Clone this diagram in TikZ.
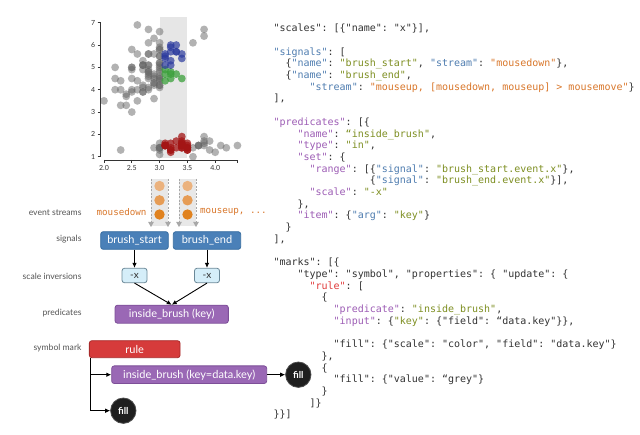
\documentclass[tikz,border=0pt]{standalone}
\usepackage{fontspec}
\setmainfont{Lato}
\setmonofont{DejaVu Sans Mono}
\usetikzlibrary{arrows.meta,calc}
\definecolor{cdef}{HTML}{333333}
\definecolor{cblue}{HTML}{4F7DB0}
\definecolor{cgreen}{HTML}{7E8F22}
\definecolor{corange}{HTML}{D9772B}
\definecolor{cpurple}{HTML}{9D5DB5}
\definecolor{cred}{HTML}{E03A3A}
\definecolor{labgray}{HTML}{555555}
\definecolor{sigfill}{HTML}{4A80B8}
\definecolor{sigborder}{HTML}{356CA0}
\definecolor{invfill}{HTML}{D5EEF9}
\definecolor{invborder}{HTML}{6A8898}
\definecolor{predfill}{HTML}{9A68B5}
\definecolor{predborder}{HTML}{7D4F98}
\definecolor{rulefill}{HTML}{D63B3B}
\definecolor{ruleborder}{HTML}{A82A2A}
\definecolor{fillnodec}{HTML}{1F1F1F}
\definecolor{brushc}{HTML}{E6E6E6}
\definecolor{ptred}{HTML}{A31515}
\definecolor{ptblue}{HTML}{2B3A9E}
\definecolor{ptgreen}{HTML}{3BA03B}
\definecolor{evA}{HTML}{EBB27E}
\definecolor{evB}{HTML}{E69C55}
\definecolor{evC}{HTML}{E0821F}
\definecolor{stripc}{HTML}{E8E8E8}
\definecolor{stripline}{HTML}{A8A8A8}
\newcommand\Kb[1]{\textcolor{cblue}{#1}}
\newcommand\Kg[1]{\textcolor{cgreen}{#1}}
\newcommand\Ko[1]{\textcolor{corange}{#1}}
\newcommand\Kp[1]{\textcolor{cpurple}{#1}}
\newcommand\Kr[1]{\textcolor{cred}{#1}}
\newcommand\CL[3]{\node[codeline] (code#1) at ({273.3+#2*6.02},{28.3+#1*11.7+3.5}) {#3};}
\tikzset{
  codeline/.style={anchor=base west, inner sep=0pt, text=cdef, font=\ttfamily\fontsize{10}{12}\selectfont},
  rowlabel/.style={anchor=east, inner sep=0pt, text=labgray, font=\fontsize{8.6}{10}\selectfont},
  ticklab/.style={inner sep=0pt, text=cdef, font=\fontsize{7}{8}\selectfont},
  axisline/.style={draw=cdef, line width=0.7pt},
  gpt/.style={fill=black!60, fill opacity=0.5},
  rpt/.style={fill=ptred, fill opacity=0.75},
  bpt/.style={fill=ptblue, fill opacity=0.7},
  grpt/.style={fill=ptgreen, fill opacity=0.75},
  boxbase/.style={rounded corners=2.5pt, inner sep=0pt, line width=0.8pt, font=\fontsize{11}{13}\selectfont},
  sigbox/.style={boxbase, draw=sigborder, fill=sigfill, text=white, minimum height=17.6pt},
  invbox/.style={boxbase, draw=invborder, fill=invfill, text=cdef, minimum width=25pt, minimum height=14.4pt, font=\fontsize{10}{11}\selectfont},
  predbox/.style={boxbase, draw=predborder, fill=predfill, text=white, minimum height=18pt},
  rulebox/.style={boxbase, draw=ruleborder, fill=rulefill, text=white, minimum height=17pt},
  fillnode/.style={circle, fill=fillnodec, draw=black!70, line width=0.8pt, minimum size=25.4pt, inner sep=0pt, text=white, font=\bfseries\fontsize{9.5}{10}\selectfont},
  conn/.style={draw=black, line width=0.9pt, -{Latex[length=5pt,width=4.6pt]}},
  striparrow/.style={draw=stripline, line width=0.8pt, dash pattern=on 2pt off 1.5pt, -{Triangle[length=5pt,width=5.5pt,fill=stripline]}},
  evlabel/.style={inner sep=0pt, text=corange, font=\ttfamily\fontsize{9.2}{11}\selectfont}
}
\begin{document}
\begin{tikzpicture}[x=1pt,y=-1pt]
\fill[white] (0,0) rectangle (640,435);
\useasboundingbox (0,0) rectangle (640,435);

% ---------- scatter plot ----------
\fill[brushc] (159.6,17.3) rectangle (187.4,158);
\begin{scope}[shift={(104,156.7)}, x=55.6pt, y=22.33pt]
\foreach \a/\b in {3.0/1.4, 3.6/1.4, 3.9/1.7, 2.9/1.4, 3.7/1.5, 3.0/1.4, 3.0/1.1, 4.0/1.2, 4.4/1.5, 3.9/1.3, 3.8/1.7, 3.8/1.5, 3.7/1.5, 3.6/1.0, 3.0/1.6, 4.1/1.5, 4.2/1.4, 3.0/1.3, 2.3/1.3, 3.8/1.9, 3.0/1.4, 3.8/1.6, 3.7/1.5,
2.3/4.0, 2.8/4.6, 2.8/4.5, 2.4/3.3, 2.9/4.6, 2.7/3.9, 2.0/3.5, 3.0/4.2, 2.2/4.0, 2.9/4.7, 2.9/3.6, 3.0/4.5, 2.7/4.1, 2.2/4.5, 2.5/3.9, 2.8/4.0, 2.5/4.9, 2.8/4.7, 2.9/4.3, 3.0/4.4, 2.8/4.8, 3.0/5.0, 2.9/4.5, 2.6/3.5, 2.4/3.8, 2.4/3.7, 2.7/3.9, 2.7/5.1, 3.0/4.5, 2.3/4.4, 3.0/4.1, 2.5/4.0, 2.6/4.4, 3.0/4.6, 2.6/4.0, 2.3/3.3, 2.7/4.2, 3.0/4.2, 2.9/4.2, 2.9/4.3, 2.5/3.0, 2.8/4.1,
2.7/5.1, 3.0/5.9, 2.9/5.6, 3.0/5.8, 3.0/6.6, 2.5/4.5, 2.9/6.3, 2.5/5.8, 3.6/6.1, 2.7/5.3, 3.0/5.5, 2.5/5.0, 2.8/5.1, 3.0/5.5, 3.8/6.7, 2.6/6.9, 2.2/5.0, 2.8/4.9, 2.8/6.7, 2.7/4.9, 2.8/4.8, 3.0/4.9, 2.8/5.6, 3.0/5.8, 2.8/6.1, 3.8/6.4, 2.8/5.6, 2.8/5.1, 2.6/5.6, 3.0/6.1, 3.0/4.8, 2.7/5.1, 3.0/5.2, 2.5/5.0, 3.0/5.2, 3.0/5.1}
  {\fill[gpt] (\a-2,\b-1) circle[radius=3.9pt];}
\foreach \a/\b in {3.5/1.4, 3.2/1.3, 3.1/1.5, 3.4/1.4, 3.4/1.5, 3.1/1.5, 3.4/1.6, 3.5/1.4, 3.4/1.7, 3.3/1.7, 3.4/1.9, 3.4/1.6, 3.5/1.5, 3.4/1.4, 3.2/1.6, 3.1/1.6, 3.4/1.5, 3.1/1.5, 3.2/1.2, 3.5/1.3, 3.1/1.5, 3.4/1.5, 3.5/1.3, 3.2/1.3, 3.5/1.6, 3.2/1.4, 3.3/1.4}
  {\fill[rpt] (\a-2,\b-1) circle[radius=3.9pt];}
\foreach \a/\b in {3.2/4.7, 3.2/4.5, 3.1/4.9, 3.3/4.7, 3.1/4.4, 3.2/4.8, 3.4/4.5, 3.1/4.7}
  {\fill[grpt] (\a-2,\b-1) circle[radius=3.9pt];}
\foreach \a/\b in {3.3/6.0, 3.2/5.1, 3.2/5.3, 3.2/5.7, 3.3/5.7, 3.2/6.0, 3.4/5.6, 3.1/5.5, 3.1/5.4, 3.1/5.6, 3.1/5.1, 3.2/5.9, 3.3/5.7, 3.4/5.4}
  {\fill[bpt] (\a-2,\b-1) circle[radius=3.9pt];}
\end{scope}
% y axis
\draw[axisline] (97.7,22.7) -- (100.7,22.7) -- (100.7,156.7) -- (97.7,156.7);
\foreach \k in {1,...,7} {
  \draw[axisline] (97.7,{156.7-(\k-1)*22.33}) -- (100.7,{156.7-(\k-1)*22.33});
  \node[ticklab, anchor=east] (yt\k) at (95.5,{156.7-(\k-1)*22.33}) {\k};
}
% x axis
\draw[axisline] (104,163) -- (104,160) -- (237.4,160) -- (237.4,163);
\foreach \v/\t in {2.0/2.0, 2.5/2.5, 3.0/3.0, 3.5/3.5, 4.0/4.0} {
  \draw[axisline] ({104+(\v-2)*55.6},160) -- ({104+(\v-2)*55.6},163);
  \node[ticklab, anchor=north] (xt\t) at ({104+(\v-2)*55.6},165.5) {\t};
}

% ---------- event streams ----------
\foreach \cx/\nm in {159.5/L, 187.5/R} {
  \fill[stripc] ({\cx-8.5},179) rectangle ({\cx+8.5},226);
  \draw[striparrow] ({\cx-8.5},179) -- ({\cx-8.5},227);
  \draw[striparrow] ({\cx+8.5},179) -- ({\cx+8.5},227);
  \fill[evA] (\cx,186) circle[radius=5.2pt];
  \fill[evB] (\cx,200.3) circle[radius=5.2pt];
  \fill[evC] (\cx,214.5) circle[radius=5.2pt];
}
\node[evlabel, anchor=east] (md) at (146.7,212.3) {mousedown};
\node[evlabel, anchor=west] (mu) at (200,212.3) {mouseup, ...};

% ---------- row labels ----------
\node[rowlabel] (lab1) at (81.7,212.7) {event streams};
\node[rowlabel] (lab2) at (81.7,239.3) {signals};
\node[rowlabel] (lab3) at (81.7,276) {scale inversions};
\node[rowlabel] (lab4) at (81.7,313.3) {predicates};
\node[rowlabel] (lab5) at (81.7,348.3) {symbol mark};

% ---------- dataflow ----------
\node[sigbox, minimum width=67.6pt] (bs) at (134.5,240.5) {brush\_start};
\node[sigbox, minimum width=67.4pt] (be) at (207,240.5) {brush\_end};
\node[invbox] (nx1) at (134.5,275.5) {-x};
\node[invbox] (nx2) at (207,275.5) {-x};
\node[predbox, minimum width=113.3pt] (pred) at (171.7,314.2) {inside\_brush (key)};
\draw[conn] (bs.south) -- (nx1.north);
\draw[conn] (be.south) -- (nx2.north);
\draw[conn] (nx1.south) -- (pred.north);
\draw[conn] (nx2.south) -- (pred.north);

\node[rulebox, minimum width=90.7pt] (rule) at (134.7,349.2) {rule};
\node[predbox, minimum width=155pt, minimum height=17.6pt] (pred2) at (189.2,374.7) {inside\_brush (key=data.key)};
\node[fillnode] (fill1) at (298.3,374.7) {fill};
\node[fillnode] (fill2) at (123.3,410.7) {fill};
\coordinate (rs) at ($(rule.south west)+(1.8,0)$);
\draw[conn] (rs) |- (pred2.west);
\draw[conn] (rs) |- (fill2.west);
\draw[conn] (pred2.east) -- (fill1.west);

% ---------- code ----------
\CL{0}{0}{"scales": [\{"name": "x"\}],}
\CL{2}{0}{\Kb{"signals"}: [}
\CL{3}{2}{\{\Kb{"name"}: \Kg{"brush\_start"}, \Kb{"stream"}: \Ko{"mousedown"}\},}
\CL{4}{2}{\{\Kb{"name"}: \Kg{"brush\_end"},}
\CL{5}{6}{\Kb{"stream"}: \Ko{"mouseup, [mousedown, mouseup] > mousemove"}\}}
\CL{6}{0}{],}
\CL{8}{0}{\Kp{"predicates"}: [\{}
\CL{9}{4}{\Kp{"name"}: \Kg{“inside\_brush"},}
\CL{10}{4}{\Kp{"type"}: \Kg{"in"},}
\CL{11}{4}{\Kp{"set"}: \{}
\CL{12}{6}{\Kp{"range"}: [\{\Kb{"signal"}: \Kg{"brush\_start.event.x"}\},}
\CL{13}{16}{\{\Kb{"signal"}: \Kg{"brush\_end.event.x"}\}],}
\CL{14}{6}{\Kp{"scale"}: \Kg{"-x"}}
\CL{15}{4}{\},}
\CL{16}{4}{\Kp{"item"}: \{\Kb{"arg"}: \Kg{"key"}\}}
\CL{17}{2}{\}}
\CL{18}{0}{],}
\CL{20}{0}{"marks": [\{}
\CL{21}{4}{"type": "symbol", "properties": \{ "update": \{}
\CL{22}{6}{\Kr{"rule"}: [}
\CL{23}{8}{\{}
\CL{24}{10}{\Kp{"predicate"}: \Kg{"inside\_brush"},}
\CL{25}{10}{\Kp{"input"}: \{\Kg{"key"}: \{"field": “data.key"\}\},}
\CL{27}{10}{"fill": \{"scale": "color", "field": "data.key"\}}
\CL{28}{8}{\},}
\CL{29}{8}{\{}
\CL{30}{10}{"fill": \{"value": “grey"\}}
\CL{31}{8}{\}}
\CL{32}{6}{]\}}
\CL{33}{0}{\}\}]}
\end{tikzpicture}
\end{document}
